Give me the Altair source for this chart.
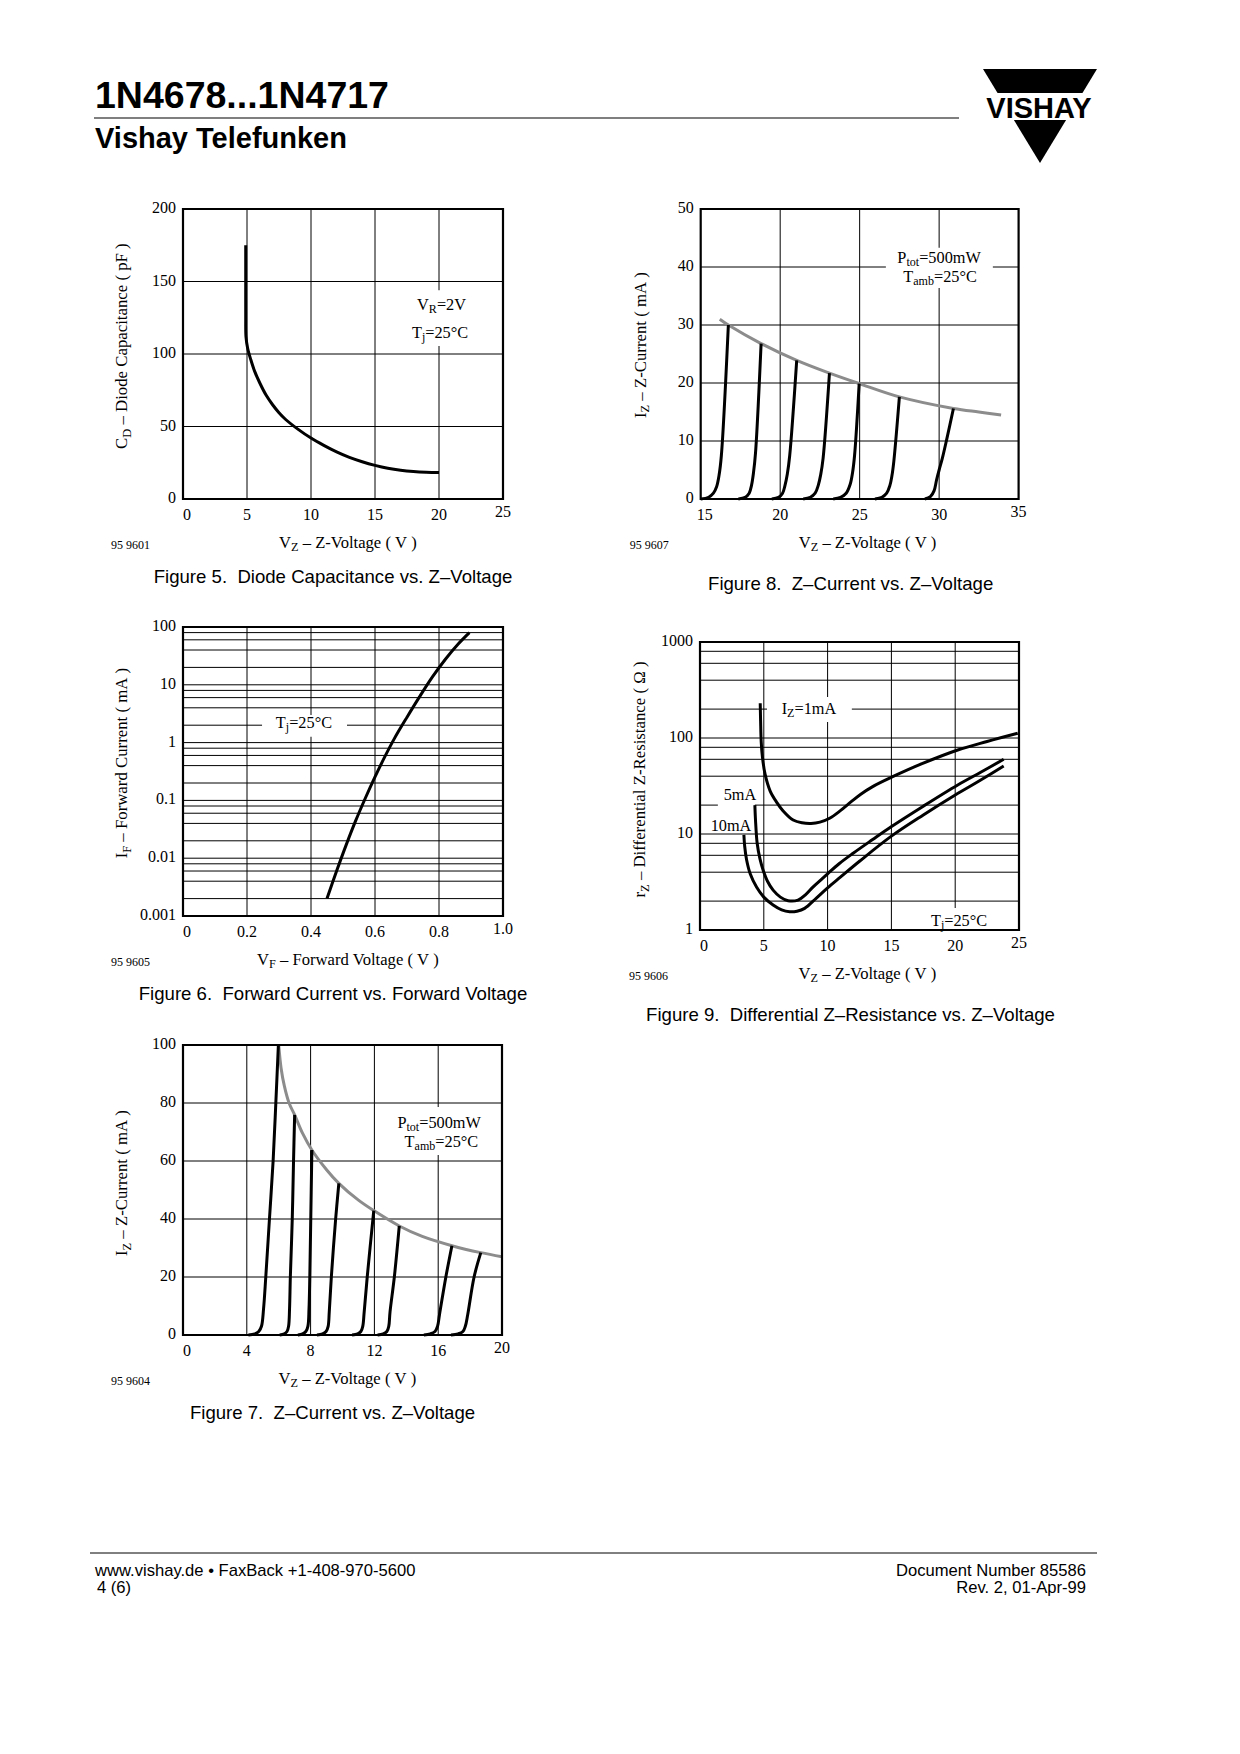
import altair as alt
import pandas as pd

M = 8  # page margin of the browser
SERIF = "Liberation Serif"
SANS = "Liberation Sans"
NB = "\u00a0"

# ---------------- data ----------------
# Figure 5: diode capacitance vs Z-voltage
f5_v = [4.9, 4.9, 4.9, 4.92, 5.05, 5.3, 5.6, 6.0, 6.5, 7.0, 7.5, 8.0, 9.0, 10.0, 11.0, 12.0,
        13.0, 14.0, 15.0, 16.0, 17.0, 18.0, 19.0, 20.0]
f5_c = [175, 150, 125, 112, 104, 96, 88, 80, 71.5, 65, 59.5, 55, 48, 42, 37, 32.5,
        28.7, 25.7, 23.2, 21.2, 19.8, 18.9, 18.4, 18.2]

# Figure 6: forward current vs forward voltage
f6_v = [0.45, 0.48, 0.51, 0.54, 0.57, 0.60, 0.63, 0.66, 0.70, 0.74, 0.78, 0.82, 0.86, 0.895]
f6_i = [0.002, 0.006, 0.017, 0.045, 0.11, 0.255, 0.56, 1.16, 2.75, 6.3, 13.8, 27.7, 50.8, 80]

# Figure 7: Z-current vs Z-voltage (low voltage types)
f7_curves = [
    ([4.1, 4.5, 4.75, 4.92, 5.05, 5.19, 5.42, 5.65, 5.82, 5.98], [0, 0.4, 1.2, 3, 9, 20, 40, 60, 80, 100]),
    ([6.06, 6.35, 6.52, 6.62, 6.68, 6.73, 6.85, 6.93, 7.0], [0, 0.4, 1.2, 3, 9, 20, 40, 60, 75.9]),
    ([7.2, 7.5, 7.7, 7.83, 7.9, 7.95, 8.01, 8.08], [0, 0.4, 1.2, 3, 9, 20, 40, 63.8]),
    ([8.4, 8.75, 8.97, 9.1, 9.17, 9.3, 9.57, 9.77], [0, 0.4, 1.2, 3, 8, 20, 40, 52.3]),
    ([10.6, 10.95, 11.15, 11.27, 11.36, 11.55, 11.96], [0, 0.4, 1.2, 3, 8, 20, 42.9]),
    ([12.2, 12.55, 12.78, 12.9, 12.98, 13.25, 13.56], [0, 0.4, 1.2, 3, 8, 20, 37.6]),
    ([15.1, 15.5, 15.8, 15.96, 16.08, 16.48, 16.86], [0, 0.4, 1.2, 3, 7, 20, 30.8]),
    ([16.8, 17.25, 17.55, 17.7, 17.85, 18.25, 18.67], [0, 0.4, 1.2, 3, 7, 20, 28.4]),
]
f7_limit_v = [6.0, 6.15, 6.35, 6.65, 7.0, 7.5, 8.08, 9.0, 9.77, 11.0, 11.96, 13.56, 15.0, 16.86, 18.67, 20.0]
f7_limit_i = [100, 92, 86, 80, 75.9, 69.5, 63.8, 57, 52.3, 46.5, 42.9, 37.6, 34, 30.8, 28.4, 27]

# Figure 8: Z-current vs Z-voltage (high voltage types)
f8_curves = [
    ([15.0, 15.5, 15.8, 16.0, 16.15, 16.3, 16.74], [0, 0.3, 1.0, 2.1, 4, 7.5, 30]),
    ([17.37, 17.8, 18.05, 18.2, 18.32, 18.45, 18.8], [0, 0.3, 1.0, 2.4, 4.5, 8, 26.8]),
    ([19.47, 19.9, 20.15, 20.3, 20.45, 20.6, 21.04], [0, 0.3, 1.0, 2.3, 4.3, 7.5, 23.9]),
    ([21.45, 21.9, 22.2, 22.4, 22.55, 22.7, 23.1], [0, 0.3, 1.0, 2.4, 4.2, 7, 21.7]),
    ([23.34, 23.8, 24.15, 24.4, 24.55, 24.68, 24.97], [0, 0.3, 1.0, 2.5, 4.5, 7.5, 19.9]),
    ([25.96, 26.4, 26.7, 26.9, 27.03, 27.15, 27.5], [0, 0.3, 1.0, 2.3, 4, 6.5, 17.6]),
    ([29.1, 29.45, 29.68, 29.84, 30.0, 30.2, 30.47, 30.9], [0, 0.4, 1.4, 3.3, 5, 7, 10.2, 15.6]),
]
f8_limit_v = [16.2, 16.74, 18.8, 21.04, 23.1, 24.97, 27.5, 30.9, 32.5, 33.9]
f8_limit_i = [31, 30, 26.8, 23.9, 21.7, 19.9, 17.6, 15.6, 15.0, 14.5]

# Figure 9: differential Z-resistance vs Z-voltage
f9_1ma_v = [4.72, 4.75, 4.8, 4.9, 5.1, 5.5, 6.0, 6.5, 7.3, 8.0, 8.7, 9.4, 10.16, 11.0, 11.85,
            12.6, 13.5, 15.1, 17.4, 20.2, 22.5, 24.9]
f9_1ma_r = [230, 150, 90, 62, 42, 28, 21.5, 17.5, 14, 13.1, 12.9, 13.3, 14.6, 17.5, 21.7,
            26, 31, 39.5, 54, 75, 92, 112]
f9_5ma_v = [4.3, 4.35, 4.48, 4.7, 4.95, 5.3, 5.73, 6.3, 6.9, 7.68, 8.3, 8.85, 9.5, 10.0, 10.9,
            12.0, 13.5, 14.98, 17.5, 20.2, 22.0, 23.8]
f9_5ma_r = [20, 14, 8, 5.5, 4.2, 3.2, 2.6, 2.2, 2.02, 2.05, 2.35, 2.8, 3.35, 3.85, 4.9,
            6.3, 8.7, 11.9, 19.5, 32.4, 44, 60]
f9_10ma_v = [3.44, 3.5, 3.65, 3.95, 4.43, 5.0, 5.73, 6.4, 7.03, 7.6, 8.2, 9.1, 10.0, 11.0,
             12.5, 15.0, 17.5, 20.0, 22.0, 23.8]
f9_10ma_r = [9.8, 7.5, 5.4, 3.8, 2.8, 2.2, 1.82, 1.62, 1.55, 1.57, 1.68, 2.14, 2.75, 3.55,
             5.2, 9.5, 15.8, 25.5, 36.5, 51]

# ---------------- text metrics (Times) for composed labels ----------------
TW = {" ": 250, NB: 250, "(": 333, ")": 333, "-": 333, "–": 500, "=": 564, ".": 250, "°": 400, "Ω": 768}
for ch in "0123456789":
    TW[ch] = 500
TW.update(dict(zip("ABCDEFGHIJKLMNOPQRSTUVWXYZ",
                   [722, 667, 667, 722, 611, 556, 722, 722, 333, 389, 722, 611, 889, 722, 722, 556,
                    722, 667, 556, 611, 722, 722, 944, 722, 722, 611])))
TW.update(dict(zip("abcdefghijklmnopqrstuvwxyz",
                   [444, 500, 444, 500, 444, 333, 500, 500, 278, 278, 500, 278, 778, 500, 500, 500,
                    500, 333, 389, 278, 500, 500, 722, 500, 500, 444])))


def tw(s, size):
    return sum(TW.get(ch, 500) for ch in s) * size / 1000.0


def rich(df, enc, segs, size, align="center", along=0.0, perp=0.0, angle=0, sub_scale=0.74):
    sizes = [size * sub_scale if sub else size for _, sub in segs]
    widths = [tw(t, s) for (t, _), s in zip(segs, sizes)]
    total = sum(widths)
    off = {"left": 0.0, "center": -total / 2.0, "right": -total}[align] + along
    out = []
    for (t, sub), s, w in zip(segs, sizes, widths):
        lead = len(t) - len(t.lstrip(" "))
        body = t.strip(" ").replace(" ", NB)
        kw = dict(text=body, align="left", baseline="middle", font=SERIF, fontSize=s,
                  color="black", dx=off + tw(" " * lead, s), dy=perp + (size * 0.27 if sub else 0))
        if angle:
            kw["angle"] = angle
        out.append(alt.Chart(df).mark_text(**kw).encode(**enc))
        off += w
    return out


def figure(g):
    xs = alt.Scale(domain=g["xdom"], range=[g["xr"][0] - M, g["xr"][1] - M], nice=False, zero=False)
    if g["ylog"]:
        ys = alt.Scale(type="log", domain=g["ydom"], range=[g["yr"][0] - M, g["yr"][1] - M], nice=False)
    else:
        ys = alt.Scale(domain=g["ydom"], range=[g["yr"][0] - M, g["yr"][1] - M], nice=False, zero=False)

    def X(f):
        return alt.X(f, type="quantitative", scale=xs, axis=None)

    def Y(f):
        return alt.Y(f, type="quantitative", scale=ys, axis=None)

    x0, x1 = g["xdom"]
    y0, y1 = g["ydom"]
    xmid = (x0 + x1) / 2.0
    ymid = (y0 * y1) ** 0.5 if g["ylog"] else (y0 + y1) / 2.0
    L = []
    # grid
    L.append(alt.Chart(pd.DataFrame({"v": g["vgrid"], "a": y0, "b": y1}))
             .mark_rule(color="black", strokeWidth=1).encode(x=X("v"), y=Y("a"), y2="b"))
    L.append(alt.Chart(pd.DataFrame({"v": g["hgrid"], "a": x0, "b": x1}))
             .mark_rule(color="black", strokeWidth=1).encode(y=Y("v"), x=X("a"), x2="b"))
    # white boxes behind annotations
    bx = pd.DataFrame(g["boxes"], columns=["xa", "xb", "ya", "yb"])
    L.append(alt.Chart(bx).mark_rect(color="white").encode(x=X("xa"), x2="xb", y=Y("ya"), y2="yb"))
    # curves
    for color, curves in (("#8c8c8c", g["gray"]), ("black", g["curves"])):
        rows = []
        for ci, (vs, ws) in enumerate(curves):
            for k, (a, b) in enumerate(zip(vs, ws)):
                rows.append({"c": ci, "k": k, "vx": a, "vy": b})
        if rows:
            L.append(alt.Chart(pd.DataFrame(rows))
                     .mark_line(color=color, strokeWidth=3, interpolate="catmull-rom")
                     .encode(x=X("vx"), y=Y("vy"), detail="c:N", order="k:Q"))
    # frame
    fr = pd.DataFrame({"xa": [x0], "xb": [x1], "ya": [y0], "yb": [y1]})
    L.append(alt.Chart(fr).mark_rect(fill="white", fillOpacity=0, stroke="black", strokeWidth=2.2)
             .encode(x=X("xa"), x2="xb", y=Y("ya"), y2="yb"))
    # tick labels
    xt = pd.DataFrame({"v": g["xt"], "lab": g["xl"], "b": y0})
    tk = dict(font=SERIF, fontSize=16, color="black", baseline="middle", align="center")
    L.append(alt.Chart(xt.iloc[[0]]).mark_text(dx=4, dy=16, **tk).encode(x=X("v"), y=Y("b"), text="lab:N"))
    L.append(alt.Chart(xt.iloc[1:-1]).mark_text(dy=16, **tk).encode(x=X("v"), y=Y("b"), text="lab:N"))
    L.append(alt.Chart(xt.iloc[[-1]]).mark_text(dy=13, **tk).encode(x=X("v"), y=Y("b"), text="lab:N"))
    yt = pd.DataFrame({"v": g["yt"], "lab": g["yl"], "a": x0})
    tk2 = dict(tk)
    tk2["align"] = "right"
    L.append(alt.Chart(yt).mark_text(dx=-7, dy=-1, **tk2).encode(x=X("a"), y=Y("v"), text="lab:N"))
    # annotations
    for (ax, ay, segs) in g["notes"]:
        L += rich(pd.DataFrame({"x": [ax], "y": [ay]}), dict(x=X("x"), y=Y("y")), segs, 16.3)
    # axis titles
    col = g["col"]
    L += rich(pd.DataFrame({"x": [xmid], "y": [y0]}), dict(x=X("x"), y=Y("y")), g["xtitle"], 16.6,
              along=(6 if col == 0 else 9), perp=44)
    L += rich(pd.DataFrame({"x": [x0], "y": [ymid]}), dict(x=X("x"), y=Y("y")), g["ytitle"], 16.8,
              along=g["ytalong"], perp=(-61 if col == 0 else -60), angle=270)
    base = pd.DataFrame({"x": [x0], "xm": [xmid], "y": [y0]})
    L.append(alt.Chart(base).mark_text(text=g["code"], align="left", baseline="middle", font=SERIF,
                                       fontSize=12, color="black", dx=(-72 if col == 0 else -71), dy=46)
             .encode(x=X("x"), y=Y("y")))
    L.append(alt.Chart(base).mark_text(text=g["caption"].replace("  ", NB + " "), align="center",
                                       baseline="middle", font=SANS,
                                       fontSize=18.6, color="black", dx=(-10 if col == 0 else -9),
                                       dy=(78 if col == 0 else 85))
             .encode(x=X("xm"), y=Y("y")))
    return alt.layer(*L)


VZ = [("V", 0), ("Z", 1), (" – Z-Voltage ( V )", 0)]
IZ = [("I", 0), ("Z", 1), (" – Z-Current ( mA )", 0)]
TJ = [("T", 0), ("j", 1), ("=25°C", 0)]
PTOT = [("P", 0), ("tot", 1), ("=500mW", 0)]
TAMB = [("T", 0), ("amb", 1), ("=25°C", 0)]

fig5 = dict(xdom=[0, 25], xr=[183, 503], ydom=[0, 200], yr=[499, 209], ylog=False,
            xt=[0, 5, 10, 15, 20, 25], xl=["0", "5", "10", "15", "20", "25"],
            yt=[0, 50, 100, 150, 200], yl=["0", "50", "100", "150", "200"],
            vgrid=[5, 10, 15, 20], hgrid=[50, 100, 150],
            boxes=[[17.3, 22.8, 105.5, 144]],
            curves=[(f5_v, f5_c)], gray=[],
            notes=[(20.2, 133.8, [("V", 0), ("R", 1), ("=2V", 0)]), (20.08, 114.5, TJ)],
            xtitle=VZ, ytitle=[("C", 0), ("D", 1), (" – Diode Capacitance ( pF )", 0)], ytalong=8, col=0,
            code="95 9601", caption="Figure 5.  Diode Capacitance vs. Z–Voltage")

fig6 = dict(xdom=[0, 1], xr=[183, 503], ydom=[0.001, 100], yr=[916, 627], ylog=True,
            xt=[0, 0.2, 0.4, 0.6, 0.8, 1.0], xl=["0", "0.2", "0.4", "0.6", "0.8", "1.0"],
            yt=[0.001, 0.01, 0.1, 1, 10, 100], yl=["0.001", "0.01", "0.1", "1", "10", "100"],
            vgrid=[0.2, 0.4, 0.6, 0.8],
            hgrid=[0.002, 0.004, 0.006, 0.008, 0.01, 0.02, 0.04, 0.06, 0.08, 0.1, 0.2, 0.4, 0.6, 0.8, 1,
                   2, 4, 6, 8, 10, 20, 40, 60, 80],
            boxes=[[0.247, 0.5125, 1.26, 3.0]],
            curves=[(f6_v, f6_i)], gray=[],
            notes=[(0.378, 2.18, TJ)],
            xtitle=[("V", 0), ("F", 1), (" – Forward Voltage ( V )", 0)],
            ytitle=[("I", 0), ("F", 1), (" – Forward Current ( mA )", 0)], ytalong=8.5, col=0,
            code="95 9605", caption="Figure 6.  Forward Current vs. Forward Voltage")

fig7 = dict(xdom=[0, 20], xr=[183, 502], ydom=[0, 100], yr=[1335, 1045], ylog=False,
            xt=[0, 4, 8, 12, 16, 20], xl=["0", "4", "8", "12", "16", "20"],
            yt=[0, 20, 40, 60, 80, 100], yl=["0", "20", "40", "60", "80", "100"],
            vgrid=[4, 8, 12, 16], hgrid=[20, 40, 60, 80],
            boxes=[[13.06, 19.06, 62.1, 78.6]],
            curves=f7_curves, gray=[(f7_limit_v, f7_limit_i)],
            notes=[(16.06, 73.1, PTOT), (16.2, 66.6, TAMB)],
            xtitle=VZ, ytitle=IZ, ytalong=7, col=0,
            code="95 9604", caption="Figure 7.  Z–Current vs. Z–Voltage")

fig8 = dict(xdom=[15, 35], xr=[700.7, 1018.6], ydom=[0, 50], yr=[499, 209], ylog=False,
            xt=[15, 20, 25, 30, 35], xl=["15", "20", "25", "30", "35"],
            yt=[0, 10, 20, 30, 40, 50], yl=["0", "10", "20", "30", "40", "50"],
            vgrid=[20, 25, 30], hgrid=[10, 20, 30, 40],
            boxes=[[26.65, 33.38, 36.4, 43.3]],
            curves=f8_curves, gray=[(f8_limit_v, f8_limit_i)],
            notes=[(30.0, 41.55, PTOT), (30.06, 38.3, TAMB)],
            xtitle=VZ, ytitle=IZ, ytalong=9, col=1,
            code="95 9607", caption="Figure 8.  Z–Current vs. Z–Voltage")

fig9 = dict(xdom=[0, 25], xr=[700, 1019], ydom=[1, 1000], yr=[930, 642], ylog=True,
            xt=[0, 5, 10, 15, 20, 25], xl=["0", "5", "10", "15", "20", "25"],
            yt=[1, 10, 100, 1000], yl=["1", "10", "100", "1000"],
            vgrid=[5, 10, 15, 20],
            hgrid=[2, 4, 6, 8, 10, 20, 40, 60, 80, 100, 200, 400, 600, 800],
            boxes=[[5.25, 11.9, 146.8, 267], [1.4, 4.3, 18.2, 31.6], [0.55, 4.2, 10.6, 15],
                   [17.6, 22.7, 1.0, 1.69]],
            curves=[(f9_1ma_v, f9_1ma_r), (f9_5ma_v, f9_5ma_r), (f9_10ma_v, f9_10ma_r)], gray=[],
            notes=[(8.54, 200.5, [("I", 0), ("Z", 1), ("=1mA", 0)]), (3.13, 25.5, [("5mA", 0)]),
                   (2.43, 12.1, [("10mA", 0)]), (20.3, 1.24, TJ)],
            xtitle=VZ, ytitle=[("r", 0), ("Z", 1), (" – Differential Z-Resistance ( Ω )", 0)],
            ytalong=7, col=1,
            code="95 9606", caption="Figure 9.  Differential Z–Resistance vs. Z–Voltage")

# ---------------- page decorations ----------------
one = pd.DataFrame({"a": [0]})


def ptext(t, x, y, size, align="left", weight="normal", baseline="alphabetic", font=SANS):
    return alt.Chart(one).mark_text(text=t, align=align, baseline=baseline, fontSize=size,
                                    fontWeight=weight, font=font, color="black").encode(
        x=alt.value(x - M), y=alt.value(y - M))


deco = [
    ptext("1N4678...1N4717", 95, 108, 37.5, weight="bold"),
    alt.Chart(one).mark_rule(color="black", strokeWidth=1.2).encode(
        x=alt.value(94 - M), x2=alt.value(959 - M), y=alt.value(118 - M)),
    ptext("Vishay Telefunken", 95, 148, 29, weight="bold"),
    alt.Chart(one).mark_point(shape="M-1,-0.825L1,-0.825L0,0.825Z", size=12996, filled=True,
                              color="black", opacity=1, strokeWidth=0).encode(
        x=alt.value(1040 - M), y=alt.value(116 - M)),
    alt.Chart(one).mark_rect(color="white").encode(
        x=alt.value(975 - M), x2=alt.value(1105 - M), y=alt.value(93 - M), y2=alt.value(120 - M)),
    ptext("VISHAY", 1039, 118, 29, align="center", weight="bold"),
    alt.Chart(one).mark_rule(color="black", strokeWidth=1).encode(
        x=alt.value(90 - M), x2=alt.value(1097 - M), y=alt.value(1553 - M)),
    ptext("www.vishay.de • FaxBack +1-408-970-5600", 95, 1571, 16.6, baseline="middle"),
    ptext("4 (6)", 97, 1588, 16.6, baseline="middle"),
    ptext("Document Number 85586", 1086, 1571, 16.6, align="right", baseline="middle"),
    ptext("Rev. 2, 01-Apr-99", 1086, 1588, 16.6, align="right", baseline="middle"),
]

figs = [figure(g) for g in (fig5, fig6, fig7, fig8, fig9)]

chart = alt.layer(*figs, *deco).resolve_scale(x="independent", y="independent").properties(
    width=1224, height=1700, padding=0, background="white",
    autosize=alt.AutoSizeParams(type="none")
).configure_view(stroke=None)

chart.save("out.html", embed_options={"renderer": "svg", "actions": False})
